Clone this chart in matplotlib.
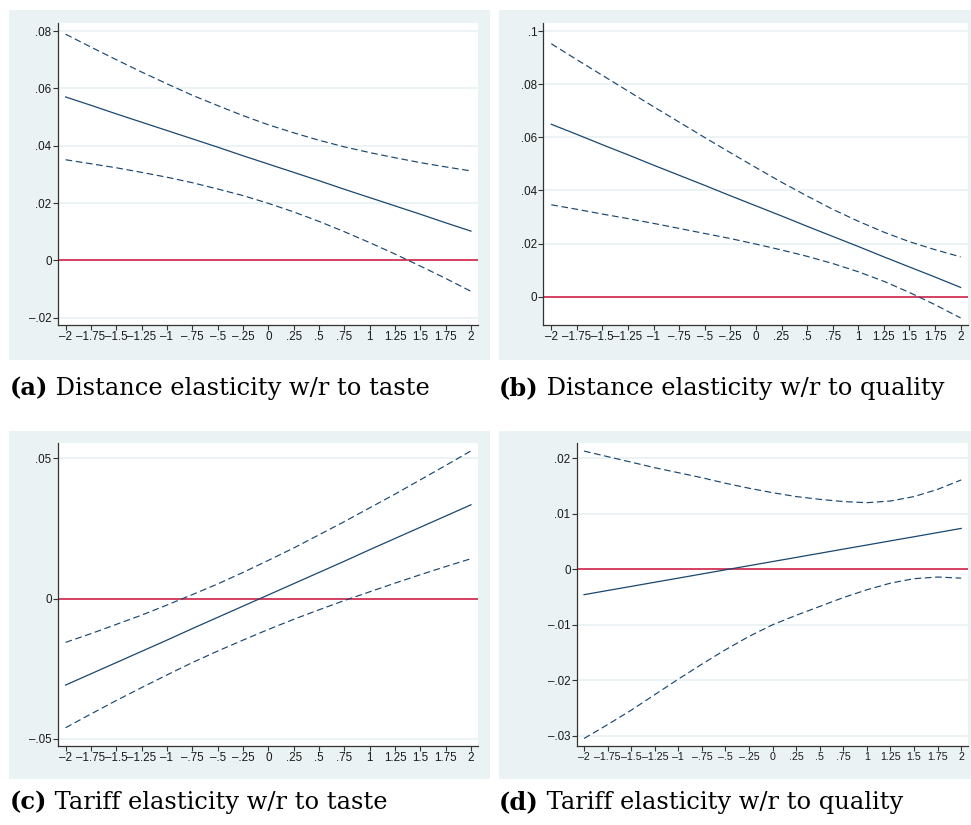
import matplotlib
matplotlib.use("Agg")
import matplotlib.pyplot as plt
from matplotlib.patches import Rectangle

# ---------------- data ----------------
x_vals = [-2, -1.75, -1.5, -1.25, -1, -0.75, -0.5, -0.25, 0,
          0.25, 0.5, 0.75, 1, 1.25, 1.5, 1.75, 2]
x_tick_labels = ["\u20132", "\u20131.75", "\u20131.5", "\u20131.25", "\u20131",
                 "\u2013.75", "\u2013.5", "\u2013.25", "0", ".25", ".5", ".75",
                 "1", "1.25", "1.5", "1.75", "2"]

# (a) Distance elasticity w/r to taste
a_mean = [.0570, .0541, .0511, .0482, .0453, .0424, .0395, .0365, .0336,
          .0307, .0278, .0248, .0219, .0190, .0161, .0131, .0102]
a_upper = [.0789, .0744, .0700, .0657, .0616, .0576, .0540, .0505, .0473,
           .0445, .0419, .0396, .0376, .0358, .0341, .0326, .0312]
a_lower = [.0351, .0337, .0323, .0307, .0290, .0271, .0249, .0226, .0199,
           .0169, .0136, .0100, .0062, .0022, -.0020, -.0063, -.0108]
a_yticks = [-0.02, 0, 0.02, 0.04, 0.06, 0.08]
a_ylabels = ["\u2013.02", "0", ".02", ".04", ".06", ".08"]

# (b) Distance elasticity w/r to quality
b_mean = [.0649, .0611, .0572, .0534, .0495, .0457, .0419, .0380, .0342,
          .0304, .0265, .0227, .0189, .0150, .0112, .0074, .0035]
b_upper = [.0952, .0892, .0833, .0774, .0715, .0657, .0599, .0542, .0486,
           .0431, .0379, .0329, .0284, .0243, .0207, .0177, .0150]
b_lower = [.0346, .0329, .0311, .0294, .0276, .0257, .0238, .0219, .0198,
           .0176, .0152, .0125, .0094, .0058, .0016, -.0030, -.0080]
b_yticks = [0, 0.02, 0.04, 0.06, 0.08, 0.1]
b_ylabels = ["0", ".02", ".04", ".06", ".08", ".1"]

# (c) Tariff elasticity w/r to taste
c_mean = [-.0308, -.0268, -.0228, -.0188, -.0148, -.0107, -.0067, -.0027, .0013,
          .0053, .0093, .0133, .0174, .0214, .0254, .0294, .0334]
c_upper = [-.0156, -.0125, -.0092, -.0059, -.0023, .0014, .0052, .0093, .0136,
           .0180, .0227, .0274, .0323, .0372, .0423, .0474, .0526]
c_lower = [-.0460, -.0411, -.0363, -.0317, -.0272, -.0228, -.0187, -.0148, -.0110,
           -.0074, -.0040, -.0007, .0024, .0055, .0085, .0114, .0142]
c_yticks = [-0.05, 0, 0.05]
c_ylabels = ["\u2013.05", "0", ".05"]

# (d) Tariff elasticity w/r to quality
d_mean = [-.00458, -.00383, -.00309, -.00234, -.00160, -.00085, -.00010, .00064, .00139,
          .00213, .00288, .00363, .00437, .00512, .00586, .00661, .00736]
d_upper = [.0213, .0203, .0193, .0183, .0174, .0165, .0155, .0146, .0138,
           .0131, .0126, .0122, .0120, .0123, .0131, .0144, .0161]
d_lower = [-.0305, -.0280, -.0254, -.0226, -.0198, -.0171, -.0145, -.0121, -.0100,
           -.0083, -.0067, -.0051, -.0037, -.0025, -.0017, -.0014, -.0016]
d_yticks = [-0.03, -0.02, -0.01, 0, 0.01, 0.02]
d_ylabels = ["\u2013.03", "\u2013.02", "\u2013.01", "0", ".01", ".02"]

captions = [("(a)", " Distance elasticity w/r to taste"),
            ("(b)", " Distance elasticity w/r to quality"),
            ("(c)", " Tariff elasticity w/r to taste"),
            ("(d)", " Tariff elasticity w/r to quality")]

# ---------------- style ----------------
W, H = 971, 825
NAVY = "#1a476f"
RED = "#d0103a"
BG = "#eaf2f3"
SPINE = "#333333"
plt.rcParams["lines.scale_dashes"] = False
plt.rcParams["font.family"] = ["Liberation Sans", "DejaVu Sans"]

fig = plt.figure(figsize=(W / 100, H / 100), dpi=100)

def px_rect(x0, y0, x1, y1):
    return [x0 / W, 1 - y1 / H, (x1 - x0) / W, (y1 - y0) / H]

# graph-region backgrounds (pixels: left, top, right, bottom)
bg_boxes = [(9, 10, 490, 360), (499, 10, 971, 360),
            (9, 431, 490, 779), (499, 431, 971, 779)]
for (x0, y0, x1, y1) in bg_boxes:
    r = px_rect(x0, y0, x1, y1)
    fig.patches.append(Rectangle((r[0], r[1]), r[2], r[3], transform=fig.transFigure,
                                 facecolor=BG, edgecolor="none", zorder=-5))

# axes (pixels: left, top, right, bottom)
ax_boxes = [(57.7, 23.3, 478.3, 325), (543.3, 23.3, 968, 325),
            (57.7, 443.3, 478.3, 745.7), (576.7, 443.3, 968, 745.7)]
ylims = [(-0.02255, 0.0827), (-0.01064, 0.1029), (-0.0524, 0.0553), (-0.0318, 0.0227)]
xlabel_sizes = [8.4, 8.4, 8.4, 7.7]
series = [(a_mean, a_upper, a_lower, a_yticks, a_ylabels),
          (b_mean, b_upper, b_lower, b_yticks, b_ylabels),
          (c_mean, c_upper, c_lower, c_yticks, c_ylabels),
          (d_mean, d_upper, d_lower, d_yticks, d_ylabels)]

axes = []
for box, yl, xls, (m, up, lo, yt, ylab) in zip(ax_boxes, ylims, xlabel_sizes, series):
    ax = fig.add_axes(px_rect(*box), zorder=2)
    axes.append(ax)
    ax.set_facecolor("white")
    ax.set_xlim(-2.078, 2.072)
    ax.set_ylim(*yl)
    for yv in yt:
        ax.axhline(yv, color=BG, lw=1.3, zorder=1)
    ax.axhline(0, color=RED, lw=1.1, zorder=2)
    ax.plot(x_vals, up, color=NAVY, lw=0.85, dashes=(4.8, 2.6), zorder=3)
    ax.plot(x_vals, lo, color=NAVY, lw=0.85, dashes=(4.8, 2.6), zorder=3)
    ax.plot(x_vals, m, color=NAVY, lw=0.9, zorder=3)
    ax.set_xticks(x_vals)
    ax.set_xticklabels(x_tick_labels)
    ax.set_yticks(yt)
    ax.set_yticklabels(ylab)
    for s in ["top", "right"]:
        ax.spines[s].set_visible(False)
    for s in ["left", "bottom"]:
        ax.spines[s].set_color(SPINE)
        ax.spines[s].set_linewidth(0.9)
    ax.tick_params(axis="x", length=3.3, width=0.8, color=SPINE, pad=1.0,
                   labelsize=xls, labelcolor="#1a1a1a")
    ax.tick_params(axis="y", length=3.6, width=0.8, color=SPINE, pad=0.8,
                   labelsize=8.4, labelcolor="#1a1a1a")

# captions
cap_pos = [(10, 388), (499, 388), (10, 802), (499, 802)]
for (bold, rest), (cx, cy) in zip(captions, cap_pos):
    t1 = fig.text(cx / W, 1 - cy / H, bold, fontsize=17.4, fontweight="bold",
                  family="DejaVu Serif", va="center", ha="left")
    axes[0].annotate(rest, xy=(1, 0), xycoords=t1, va="bottom", ha="left",
                     fontsize=17.4, family="DejaVu Serif", annotation_clip=False)

fig.savefig("out.png", dpi=100)
